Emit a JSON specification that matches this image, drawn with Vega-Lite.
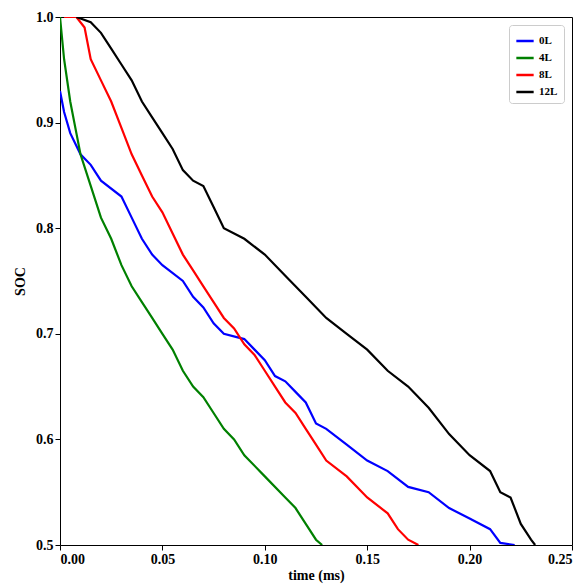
{
  "$schema": "https://vega.github.io/schema/vega-lite/v6.json",
  "width": 512,
  "height": 528,
  "autosize": "none",
  "padding": {"left": 60, "top": 17, "right": 16, "bottom": 40},
  "config": {
    "font": "Liberation Serif",
    "view": {"stroke": "black", "strokeWidth": 1},
    "axis": {"grid": false, "domain": false, "labelFontWeight": "bold", "labelFontSize": 14, "titleFontWeight": "bold", "titleFontSize": 14, "tickColor": "black", "labelColor": "black", "titleColor": "black"}
  },
  "data": {"values": [
    {"s":"0L","t":0,"v":0.93},{"s":"0L","t":0.002,"v":0.91},{"s":"0L","t":0.005,"v":0.89},{"s":"0L","t":0.01,"v":0.87},{"s":"0L","t":0.015,"v":0.86},{"s":"0L","t":0.02,"v":0.845},{"s":"0L","t":0.03,"v":0.83},{"s":"0L","t":0.035,"v":0.81},{"s":"0L","t":0.04,"v":0.79},{"s":"0L","t":0.045,"v":0.775},{"s":"0L","t":0.05,"v":0.765},{"s":"0L","t":0.06,"v":0.75},{"s":"0L","t":0.065,"v":0.735},{"s":"0L","t":0.07,"v":0.725},{"s":"0L","t":0.075,"v":0.71},{"s":"0L","t":0.08,"v":0.70},{"s":"0L","t":0.09,"v":0.695},{"s":"0L","t":0.095,"v":0.685},{"s":"0L","t":0.1,"v":0.675},{"s":"0L","t":0.105,"v":0.66},{"s":"0L","t":0.11,"v":0.655},{"s":"0L","t":0.115,"v":0.645},{"s":"0L","t":0.12,"v":0.635},{"s":"0L","t":0.125,"v":0.615},{"s":"0L","t":0.13,"v":0.61},{"s":"0L","t":0.14,"v":0.595},{"s":"0L","t":0.15,"v":0.58},{"s":"0L","t":0.16,"v":0.57},{"s":"0L","t":0.17,"v":0.555},{"s":"0L","t":0.18,"v":0.55},{"s":"0L","t":0.19,"v":0.535},{"s":"0L","t":0.2,"v":0.525},{"s":"0L","t":0.21,"v":0.515},{"s":"0L","t":0.215,"v":0.502},{"s":"0L","t":0.222,"v":0.5},
    {"s":"4L","t":0,"v":1.0},{"s":"4L","t":0.002,"v":0.96},{"s":"4L","t":0.005,"v":0.92},{"s":"4L","t":0.008,"v":0.89},{"s":"4L","t":0.01,"v":0.87},{"s":"4L","t":0.015,"v":0.84},{"s":"4L","t":0.02,"v":0.81},{"s":"4L","t":0.025,"v":0.79},{"s":"4L","t":0.03,"v":0.765},{"s":"4L","t":0.035,"v":0.745},{"s":"4L","t":0.04,"v":0.73},{"s":"4L","t":0.045,"v":0.715},{"s":"4L","t":0.05,"v":0.70},{"s":"4L","t":0.055,"v":0.685},{"s":"4L","t":0.06,"v":0.665},{"s":"4L","t":0.065,"v":0.65},{"s":"4L","t":0.07,"v":0.64},{"s":"4L","t":0.075,"v":0.625},{"s":"4L","t":0.08,"v":0.61},{"s":"4L","t":0.085,"v":0.60},{"s":"4L","t":0.09,"v":0.585},{"s":"4L","t":0.1,"v":0.565},{"s":"4L","t":0.11,"v":0.545},{"s":"4L","t":0.115,"v":0.535},{"s":"4L","t":0.12,"v":0.52},{"s":"4L","t":0.125,"v":0.505},{"s":"4L","t":0.128,"v":0.5},
    {"s":"8L","t":0.002,"v":1.0},{"s":"8L","t":0.008,"v":1.0},{"s":"8L","t":0.012,"v":0.99},{"s":"8L","t":0.015,"v":0.96},{"s":"8L","t":0.02,"v":0.94},{"s":"8L","t":0.025,"v":0.92},{"s":"8L","t":0.03,"v":0.895},{"s":"8L","t":0.035,"v":0.87},{"s":"8L","t":0.04,"v":0.85},{"s":"8L","t":0.045,"v":0.83},{"s":"8L","t":0.05,"v":0.815},{"s":"8L","t":0.055,"v":0.795},{"s":"8L","t":0.06,"v":0.775},{"s":"8L","t":0.065,"v":0.76},{"s":"8L","t":0.07,"v":0.745},{"s":"8L","t":0.075,"v":0.73},{"s":"8L","t":0.08,"v":0.715},{"s":"8L","t":0.085,"v":0.705},{"s":"8L","t":0.09,"v":0.69},{"s":"8L","t":0.095,"v":0.68},{"s":"8L","t":0.1,"v":0.665},{"s":"8L","t":0.105,"v":0.65},{"s":"8L","t":0.11,"v":0.635},{"s":"8L","t":0.115,"v":0.625},{"s":"8L","t":0.12,"v":0.61},{"s":"8L","t":0.125,"v":0.595},{"s":"8L","t":0.13,"v":0.58},{"s":"8L","t":0.14,"v":0.565},{"s":"8L","t":0.15,"v":0.545},{"s":"8L","t":0.16,"v":0.53},{"s":"8L","t":0.165,"v":0.515},{"s":"8L","t":0.17,"v":0.505},{"s":"8L","t":0.175,"v":0.5},
    {"s":"12L","t":0.008,"v":1.0},{"s":"12L","t":0.015,"v":0.995},{"s":"12L","t":0.02,"v":0.985},{"s":"12L","t":0.025,"v":0.97},{"s":"12L","t":0.03,"v":0.955},{"s":"12L","t":0.035,"v":0.94},{"s":"12L","t":0.04,"v":0.92},{"s":"12L","t":0.045,"v":0.905},{"s":"12L","t":0.05,"v":0.89},{"s":"12L","t":0.055,"v":0.875},{"s":"12L","t":0.06,"v":0.855},{"s":"12L","t":0.065,"v":0.845},{"s":"12L","t":0.07,"v":0.84},{"s":"12L","t":0.075,"v":0.82},{"s":"12L","t":0.08,"v":0.80},{"s":"12L","t":0.09,"v":0.79},{"s":"12L","t":0.1,"v":0.775},{"s":"12L","t":0.11,"v":0.755},{"s":"12L","t":0.12,"v":0.735},{"s":"12L","t":0.13,"v":0.715},{"s":"12L","t":0.14,"v":0.70},{"s":"12L","t":0.15,"v":0.685},{"s":"12L","t":0.16,"v":0.665},{"s":"12L","t":0.17,"v":0.65},{"s":"12L","t":0.18,"v":0.63},{"s":"12L","t":0.19,"v":0.605},{"s":"12L","t":0.2,"v":0.585},{"s":"12L","t":0.21,"v":0.57},{"s":"12L","t":0.215,"v":0.55},{"s":"12L","t":0.22,"v":0.545},{"s":"12L","t":0.225,"v":0.52},{"s":"12L","t":0.23,"v":0.505},{"s":"12L","t":0.232,"v":0.5}
  ]},
  "mark": {"type": "line", "strokeWidth": 2.2, "clip": true},
  "encoding": {
    "x": {"field": "t", "type": "quantitative", "title": "time (ms)", "scale": {"domain": [0, 0.25], "nice": false}, "axis": {"values": [0, 0.05, 0.1, 0.15, 0.2, 0.25], "format": ".2f", "titlePadding": 2}},
    "y": {"field": "v", "type": "quantitative", "title": "SOC", "scale": {"domain": [0.5, 1.0], "nice": false, "zero": false}, "axis": {"values": [0.5, 0.6, 0.7, 0.8, 0.9, 1.0], "format": ".1f", "titlePadding": 8}},
    "color": {"field": "s", "type": "nominal", "sort": ["0L", "4L", "8L", "12L"], "scale": {"domain": ["0L", "4L", "8L", "12L"], "range": ["#0000ff", "#008000", "#ff0000", "#000000"]},
      "legend": {"title": null, "orient": "top-right", "offset": 8, "symbolType": "stroke", "symbolStrokeWidth": 2.5, "symbolSize": 300, "labelFontWeight": "bold", "labelFontSize": 11, "strokeColor": "#cccccc", "padding": 6, "fillColor": "white", "cornerRadius": 3, "rowPadding": 2}}
  }
}
